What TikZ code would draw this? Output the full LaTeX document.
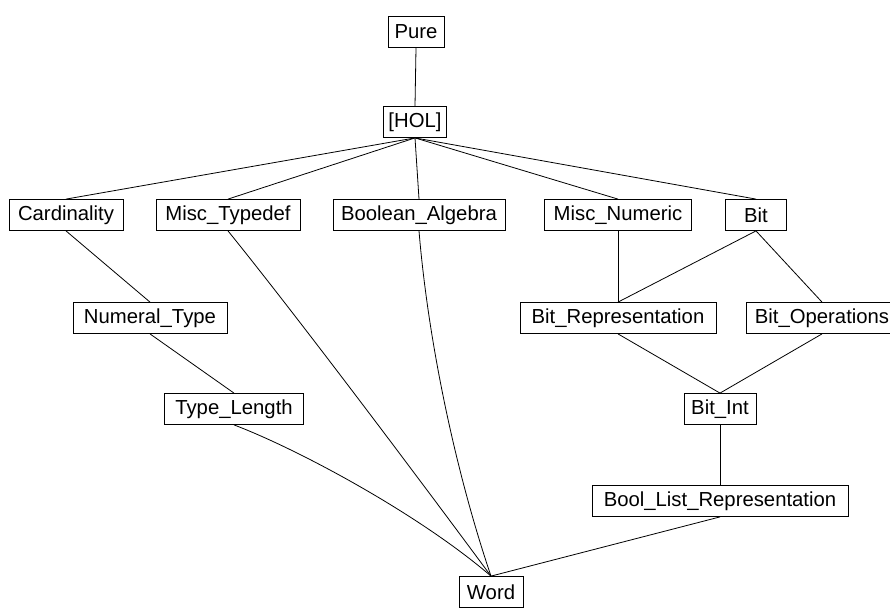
\documentclass[tikz,border=0pt]{standalone}
\usepackage{fontspec}
\setmainfont{Liberation Sans}
\begin{document}
\begin{tikzpicture}[x=1pt,y=-1pt,
  box/.style={draw,line width=0.8pt,inner xsep=0pt,inner ysep=0pt,minimum height=31pt,font=\fontsize{20.3}{24}\selectfont},
  edge/.style={line width=0.8pt}]
\useasboundingbox (0,0) rectangle (890,608);
\node[box,minimum width=56pt] (pure) at (416,32) {Pure};
\node[box,minimum width=63pt] (hol) at (415,122) {[HOL]};
\node[box,minimum width=114pt] (card) at (66,215) {Cardinality};
\node[box,minimum width=144pt] (mtd) at (228,215) {Misc\_Typedef};
\node[box,minimum width=172pt] (ba) at (419,215) {Boolean\_Algebra};
\node[box,minimum width=147pt] (mn) at (618,215) {Misc\_Numeric};
\node[box,minimum width=61pt] (bit) at (756,215) {Bit};
\node[box,minimum width=154pt] (nt) at (150,318) {Numeral\_Type};
\node[box,minimum width=196pt] (br) at (618,318) {Bit\_Representation};
\node[box,minimum width=152pt] (bo) at (822,318) {Bit\_Operations};
\node[box,minimum width=139pt] (tl) at (234,409) {Type\_Length};
\node[box,minimum width=72pt] (bi) at (720,409) {Bit\_Int};
\node[box,minimum width=256pt] (blr) at (720,501) {Bool\_List\_Representation};
\node[box,minimum width=64pt] (word) at (491,592) {Word};
\draw[edge] (pure.south) -- (hol.north);
\draw[edge] (hol.south) -- (card.north);
\draw[edge] (hol.south) -- (mtd.north);
\draw[edge] (hol.south) -- (ba.north);
\draw[edge] (hol.south) -- (mn.north);
\draw[edge] (hol.south) -- (bit.north);
\draw[edge] (card.south) -- (nt.north);
\draw[edge] (nt.south) -- (tl.north);
\draw[edge] (mn.south) -- (br.north);
\draw[edge] (bit.south) -- (br.north);
\draw[edge] (bit.south) -- (bo.north);
\draw[edge] (br.south) -- (bi.north);
\draw[edge] (bo.south) -- (bi.north);
\draw[edge] (bi.south) -- (blr.north);
\draw[edge] (blr.south) -- (word.north);
\draw[edge] (mtd.south) .. controls (300,320) and (420,480) .. (word.north);
\draw[edge] (ba.south) .. controls (428,340) and (455,470) .. (word.north);
\draw[edge] (tl.south) .. controls (300,450) and (420,515) .. (word.north);
\end{tikzpicture}
\end{document}
